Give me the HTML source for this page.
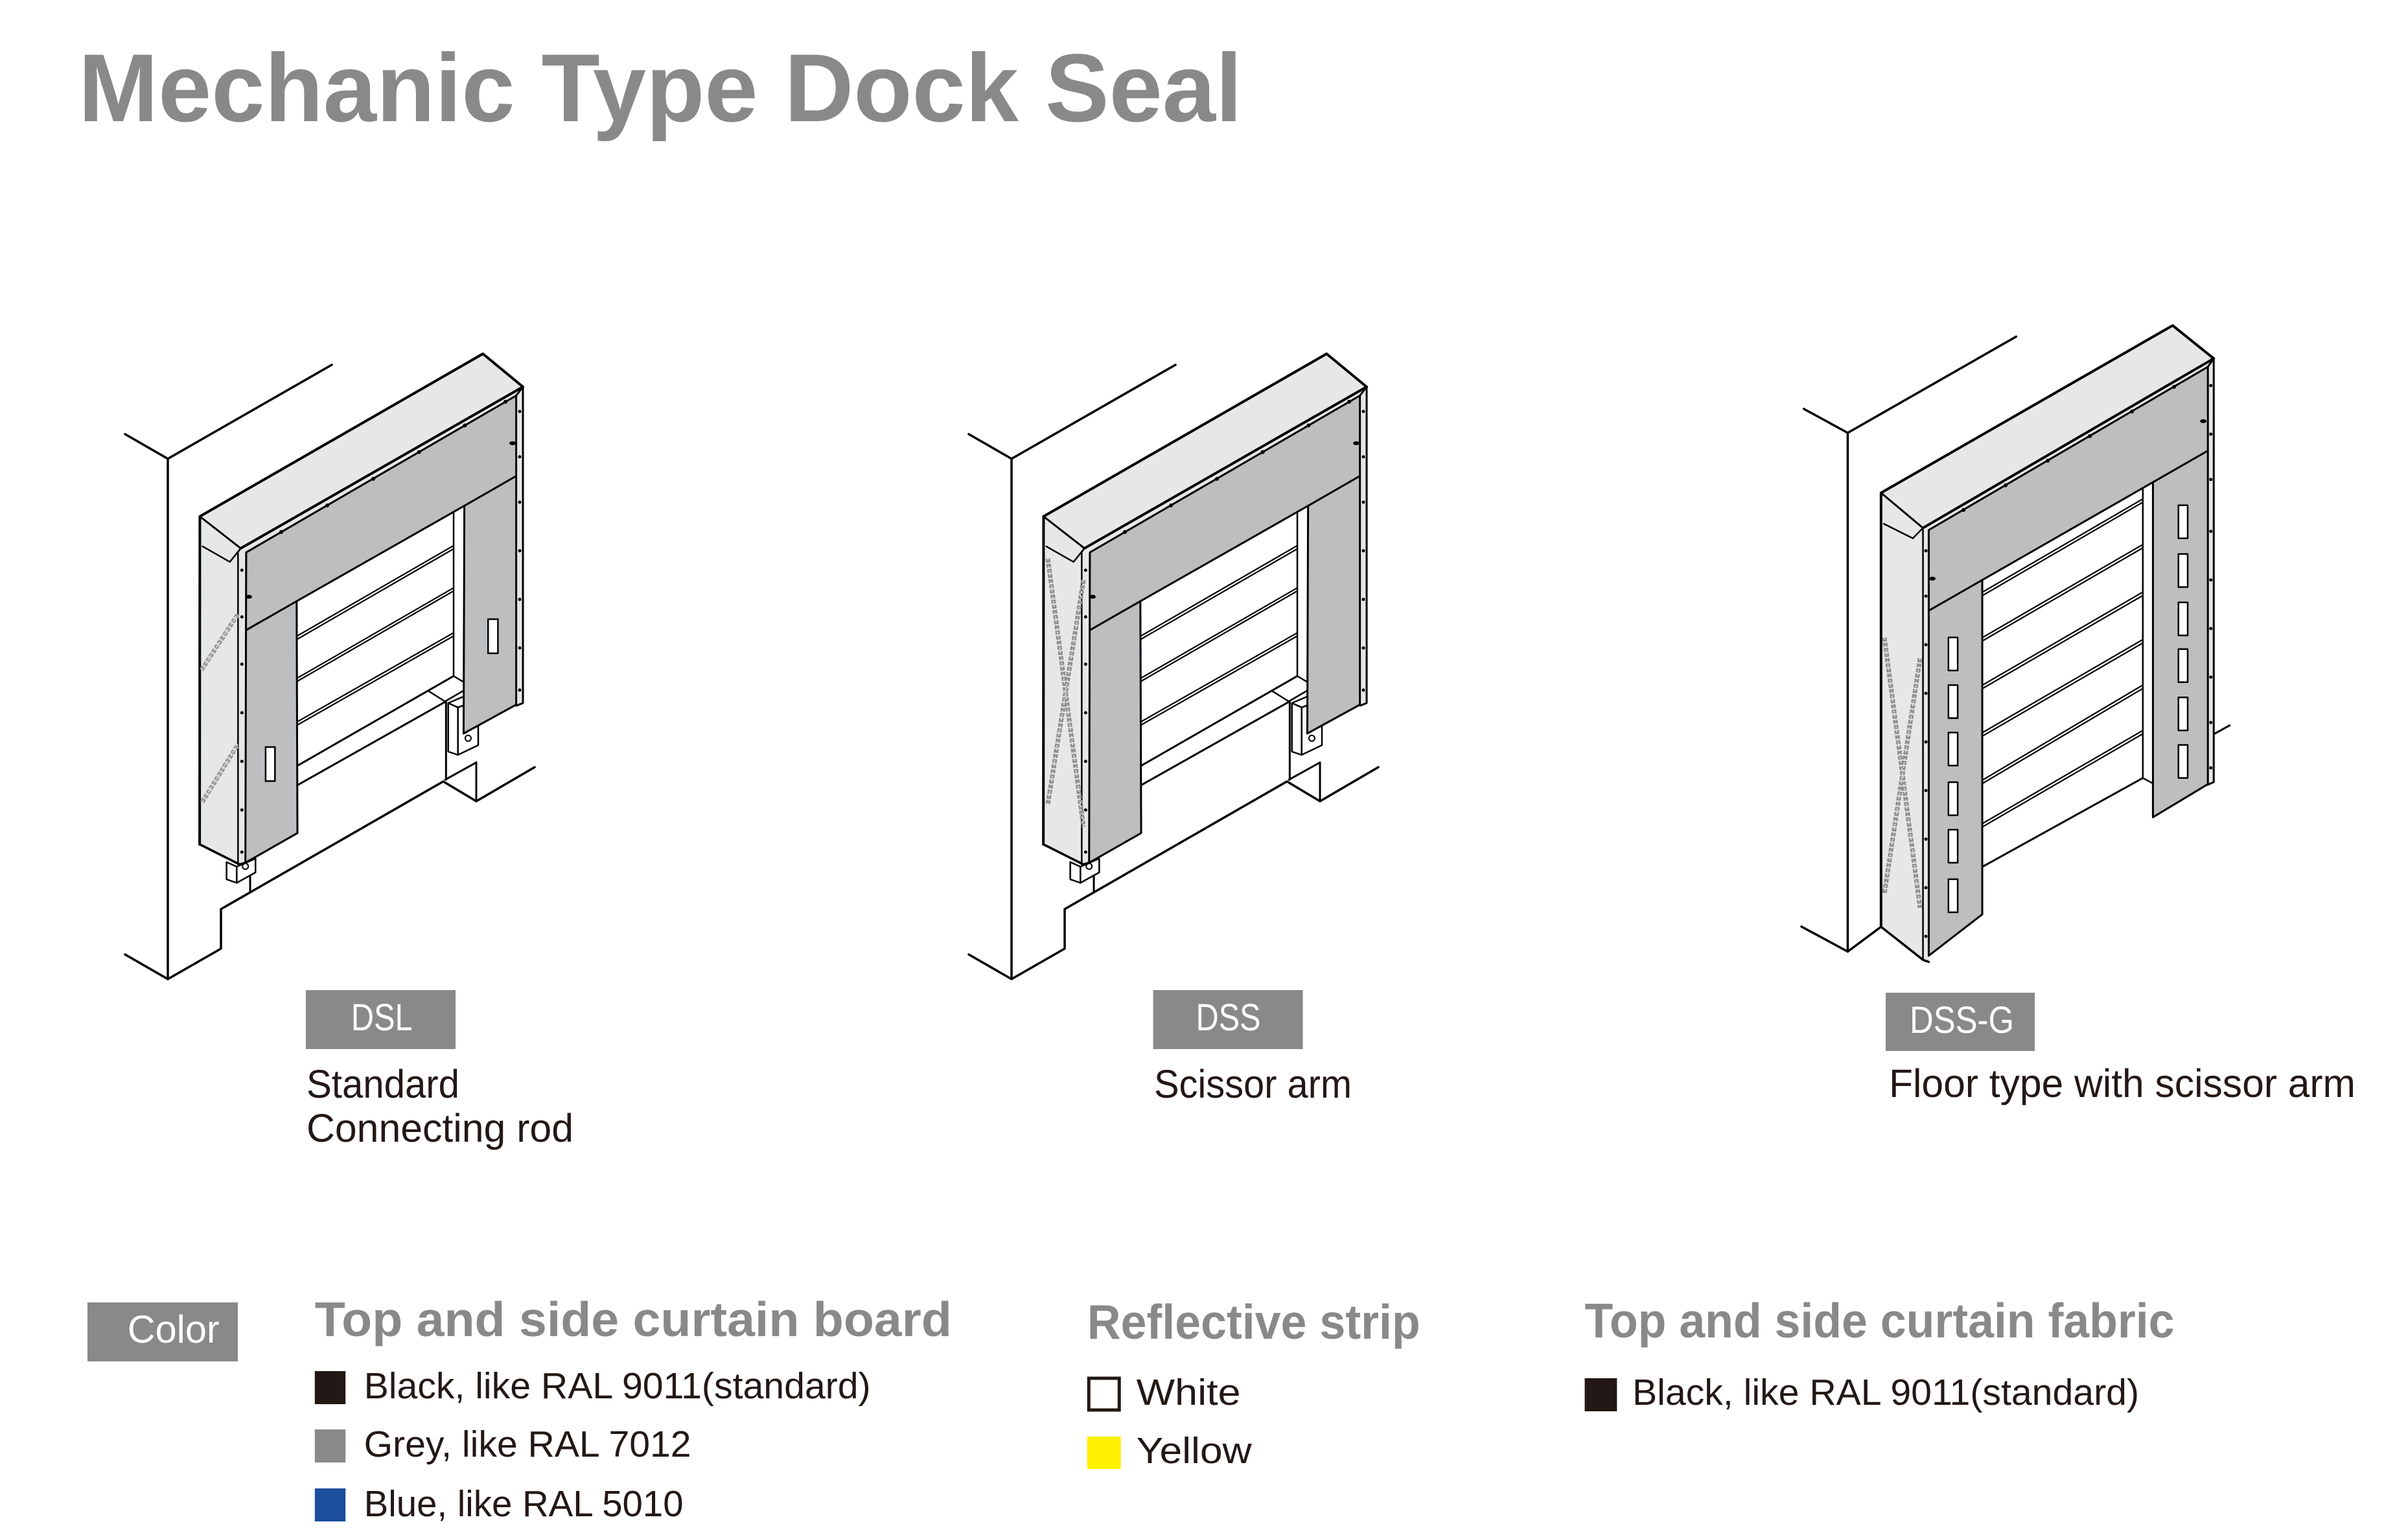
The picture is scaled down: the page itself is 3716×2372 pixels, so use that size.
<!DOCTYPE html>
<html><head><meta charset="utf-8">
<style>
html,body{margin:0;padding:0;background:#fff;}
svg{display:block;}
text{font-family:"Liberation Sans",sans-serif;}
</style></head>
<body>
<svg xmlns="http://www.w3.org/2000/svg" xmlns:xlink="http://www.w3.org/1999/xlink" width="3716" height="2372" viewBox="0 0 3716 2372">
<rect width="3716" height="2372" fill="#fff"/>

<!-- Title -->
<text x="121" y="187" font-size="149" font-weight="bold" fill="#898989" textLength="1796" lengthAdjust="spacingAndGlyphs">Mechanic Type Dock Seal</text>

<defs>
<g id="base" fill="none" stroke="#000" stroke-linejoin="round" stroke-linecap="round">
  <!-- wall -->
  <polyline points="193,670 259,708 512,563" stroke-width="3.5"/>
  <line x1="259" y1="708" x2="259" y2="1511" stroke-width="3.5"/>
  <polyline points="193,1473 259,1511 341,1464 341,1403 684,1206 735,1236.5 825,1184" stroke-width="3.5"/>
  <line x1="735" y1="1236.5" x2="735" y2="1176.7" stroke-width="3"/>
  <line x1="687" y1="1203.3" x2="735" y2="1176.7" stroke-width="3"/>
  <line x1="688.3" y1="1083" x2="688.3" y2="1203.3" stroke-width="3"/>
  <line x1="386" y1="1352" x2="386" y2="1375" stroke-width="3"/>
  <!-- door floor / leveler -->
  <line x1="459" y1="1181.7" x2="700" y2="1043.3" stroke-width="3"/>
  <line x1="459" y1="1211.7" x2="686.7" y2="1083.3" stroke-width="3"/>
  <polyline points="661.7,1066.7 686.7,1082.5 716.7,1065" stroke-width="2.5"/>
  <polyline points="700,1043.3 716.7,1053.3" stroke-width="2.5"/>
  <!-- feet -->
  <polygon points="349.6,1330.4 365.3,1337.5 365.3,1362.5 349.6,1357.1" fill="#fff" stroke-width="2.5"/>
  <polygon points="365.3,1337.5 394.3,1325 394.3,1346.4 365.3,1362.5" fill="#fff" stroke-width="2.5"/>
  <polygon points="691.7,1085 706.7,1091.7 706.7,1165 691.7,1160" fill="#fff" stroke-width="2.5"/>
  <polygon points="706.7,1091.7 738,1080.4 738,1150 706.7,1165" fill="#fff" stroke-width="2.5"/>
  <polygon points="691.7,1085 720,1073 738,1080.4 706.7,1091.7" fill="#fff" stroke-width="2.5"/>
  <!-- hood + column light grey -->
  <polygon fill="#e6e7e8" stroke="none" points="308.4,797 745.2,546 807,597 807,1085 796.6,1090 796.6,610.5 379.9,852.5 379.9,1331 369.7,1334 308.1,1303"/>
  <polyline points="308.1,1303 308.4,797 745.2,546 807,597" stroke-width="4"/>
  <line x1="371.5" y1="846.2" x2="807" y2="597" stroke-width="4"/>
  <line x1="308.4" y1="797" x2="371.5" y2="846.2" stroke-width="3"/>
  <polyline points="371.5,846.2 354.7,867.2 312.6,843.2" stroke-width="2.5"/>
  <polyline points="308.1,1303 369.7,1334 379.9,1331" stroke-width="3.5"/>
  <line x1="367.3" y1="852" x2="367.3" y2="1334" stroke-width="2.5"/>
  <line x1="371.5" y1="846.2" x2="367.3" y2="852" stroke-width="2.5"/>
  <polyline points="796.6,610.5 807,597 807,1085 797,1089" stroke-width="3"/>
  <!-- curtains -->
  <polygon fill="#bcbec0" stroke-width="3" points="379.9,852.5 796.6,610.5 796.6,1087.5 715.4,1132 716.6,780.6 457.8,927.8 459,1285.7 378.7,1331.4"/>
  <line x1="379.9" y1="972.4" x2="457.8" y2="927.8" stroke-width="3"/>
  <line x1="716.6" y1="780.6" x2="796.6" y2="734.6" stroke-width="3"/>
  <!-- back frame -->
  <line x1="700" y1="790.2" x2="700" y2="1043.3" stroke-width="2.5"/>
  <!-- slats -->
  <g stroke-width="2.2">
    <line x1="459.5" y1="980.9" x2="700" y2="842"/>
    <line x1="459.5" y1="986" x2="700" y2="847"/>
    <line x1="459.5" y1="1046.1" x2="700" y2="907.2"/>
    <line x1="459.5" y1="1051" x2="700" y2="912"/>
    <line x1="459.5" y1="1113.4" x2="700" y2="976.6"/>
    <line x1="459.5" y1="1118.5" x2="700" y2="981.5"/>
  </g>
  <!-- bolt holes -->
  <circle cx="378.7" cy="1337" r="4.5" fill="#fff" stroke-width="2"/>
  <circle cx="722.4" cy="1139.3" r="4.5" fill="#fff" stroke-width="2"/>
  <!-- rivets -->
  <g fill="#000" stroke="none">
    <circle cx="434" cy="821" r="3"/><circle cx="505" cy="780" r="3"/><circle cx="576" cy="739" r="3"/>
    <circle cx="646.6" cy="697.6" r="3"/><circle cx="717.4" cy="656.5" r="3"/><circle cx="780" cy="620" r="3"/>
    <circle cx="373.3" cy="880" r="2.5"/><circle cx="373.3" cy="952" r="2.5"/><circle cx="373.3" cy="1025" r="2.5"/>
    <circle cx="373.3" cy="1100" r="2.5"/><circle cx="373.3" cy="1175" r="2.5"/><circle cx="373.3" cy="1250" r="2.5"/>
    <circle cx="373.3" cy="1315" r="2.5"/>
    <circle cx="802" cy="635" r="2.5"/><circle cx="802" cy="705" r="2.5"/><circle cx="802" cy="775" r="2.5"/>
    <circle cx="802" cy="850" r="2.5"/><circle cx="802" cy="925" r="2.5"/><circle cx="802" cy="1000" r="2.5"/>
    <circle cx="802" cy="1065" r="2.5"/>
    <ellipse cx="384" cy="921" rx="5" ry="3"/><ellipse cx="791" cy="684" rx="5" ry="3"/>
  </g>
</g>
</defs>

<!-- Drawing 1 (DSL) -->
<use xlink:href="#base" href="#base"/>
<g fill="#fff" stroke="#000" stroke-width="2.5">
  <rect x="409.9" y="1152.9" width="14.4" height="52.5"/>
  <rect x="753.2" y="955.6" width="15.2" height="52.6"/>
</g>
<g fill="none">
  <g stroke="#9a9a9a" stroke-width="7" stroke-dasharray="6 2">
    <line x1="311" y1="1034" x2="367" y2="948"/>
    <line x1="312" y1="1238" x2="367" y2="1149"/>
  </g>
  <g stroke="#dcdcdc" stroke-width="2" stroke-dasharray="3 3">
    <line x1="311" y1="1034" x2="367" y2="948"/>
    <line x1="312" y1="1238" x2="367" y2="1149"/>
  </g>
</g>

<!-- Drawing 2 (DSS) -->
<use xlink:href="#base" href="#base" transform="translate(1302,0)"/>
<g fill="none">
  <g stroke="#8e8e8e" stroke-width="7" stroke-dasharray="6 2">
    <line x1="1617" y1="862" x2="1672" y2="1276"/>
    <line x1="1672" y1="895" x2="1617" y2="1241"/>
  </g>
  <g stroke="#d6d6d6" stroke-width="2" stroke-dasharray="3 3">
    <line x1="1617" y1="862" x2="1672" y2="1276"/>
    <line x1="1672" y1="895" x2="1617" y2="1241"/>
  </g>
</g>

<!-- Drawing 3 (DSS-G) -->
<g fill="none" stroke="#000" stroke-linejoin="round" stroke-linecap="round">
  <polyline points="2783.6,631 2851.4,668 3111.3,519.5" stroke-width="3.5"/>
  <line x1="2851.4" y1="668" x2="2851.4" y2="1468.5" stroke-width="3.5"/>
  <polyline points="2780,1430 2851.4,1468.5 2902.8,1430.3" stroke-width="3.5"/>
  <line x1="3418.4" y1="1131.8" x2="3440.7" y2="1119.5" stroke-width="3"/>
  <line x1="3059" y1="1337.8" x2="3306.8" y2="1200.7" stroke-width="3"/>
  <line x1="3306.8" y1="1200.7" x2="3322.4" y2="1209" stroke-width="2.5"/>
  <polygon fill="#e6e7e8" stroke="none" points="2902.8,760.6 3352.8,502.3 3416.2,553.3 3416.2,1207 3407.2,1212 3407.2,566.1 2976.4,818 2976.4,1484.5 2967.5,1481.3 2902.8,1430.3"/>
  <polyline points="2902.8,1430.3 2902.8,760.6 3352.8,502.3 3416.2,553.3" stroke-width="4"/>
  <line x1="2967.5" y1="814.8" x2="3416.2" y2="553.3" stroke-width="4"/>
  <line x1="2902.8" y1="760.6" x2="2967.5" y2="814.8" stroke-width="3"/>
  <polyline points="2967.5,814.8 2951.9,830.8 2907.2,808.4" stroke-width="2.5"/>
  <polyline points="2902.8,1430.3 2967.5,1481.3 2976.4,1484.5" stroke-width="3.5"/>
  <line x1="2967.5" y1="818" x2="2967.5" y2="1481" stroke-width="2.5"/>
  <polyline points="3407.2,566 3416.2,553.3 3416.2,1207 3407.2,1211" stroke-width="3"/>
  <polygon fill="#bcbec0" stroke-width="3" points="2976.4,818 3407.2,566.1 3407.2,1210.2 3322.4,1261.2 3322.4,744.2 3059,895.1 3059,1411.1 2976.4,1474.9"/>
  <line x1="2976.4" y1="942.4" x2="3059" y2="895.1" stroke-width="3"/>
  <line x1="3322.4" y1="744.2" x2="3407.2" y2="695.6" stroke-width="3"/>
  <line x1="3306.8" y1="753.1" x2="3306.8" y2="1200.7" stroke-width="2.5"/>
  <g stroke-width="2.2">
    <line x1="3059.5" y1="913.7" x2="3306.8" y2="770"/>
    <line x1="3059.5" y1="919" x2="3306.8" y2="775"/>
    <line x1="3059.5" y1="983.8" x2="3306.8" y2="840.3"/>
    <line x1="3059.5" y1="989" x2="3306.8" y2="845.5"/>
    <line x1="3059.5" y1="1057.2" x2="3306.8" y2="913.7"/>
    <line x1="3059.5" y1="1062.5" x2="3306.8" y2="919"/>
    <line x1="3059.5" y1="1130.5" x2="3306.8" y2="987"/>
    <line x1="3059.5" y1="1135.8" x2="3306.8" y2="992.3"/>
    <line x1="3059.5" y1="1203.8" x2="3306.8" y2="1057.2"/>
    <line x1="3059.5" y1="1209" x2="3306.8" y2="1062.5"/>
    <line x1="3059.5" y1="1270.8" x2="3306.8" y2="1127.3"/>
    <line x1="3059.5" y1="1276" x2="3306.8" y2="1132.5"/>
  </g>
  <g fill="#fff" stroke-width="2.5">
    <rect x="3006.8" y="983.8" width="14.3" height="51"/>
    <rect x="3006.8" y="1057.2" width="14.3" height="51"/>
    <rect x="3006.8" y="1130.5" width="14.3" height="51"/>
    <rect x="3006.8" y="1207.1" width="14.3" height="51"/>
    <rect x="3006.8" y="1280.4" width="14.3" height="51"/>
    <rect x="3006.8" y="1356.9" width="14.3" height="51"/>
    <rect x="3361.7" y="779.7" width="14.3" height="51"/>
    <rect x="3361.7" y="855" width="14.3" height="51"/>
    <rect x="3361.7" y="929.6" width="14.3" height="51"/>
    <rect x="3361.7" y="1001.7" width="14.3" height="51"/>
    <rect x="3361.7" y="1076.3" width="14.3" height="51"/>
    <rect x="3361.7" y="1149.6" width="14.3" height="51"/>
  </g>
  <g fill="#000" stroke="none">
    <circle cx="3030" cy="787" r="3"/><circle cx="3095" cy="749" r="3"/><circle cx="3160" cy="711" r="3"/>
    <circle cx="3225" cy="673" r="3"/><circle cx="3290" cy="635" r="3"/><circle cx="3355" cy="597" r="3"/>
    <circle cx="2972" cy="850" r="2.5"/><circle cx="2972" cy="920" r="2.5"/><circle cx="2972" cy="995" r="2.5"/>
    <circle cx="2972" cy="1070" r="2.5"/><circle cx="2972" cy="1145" r="2.5"/><circle cx="2972" cy="1220" r="2.5"/>
    <circle cx="2972" cy="1295" r="2.5"/><circle cx="2972" cy="1370" r="2.5"/><circle cx="2972" cy="1445" r="2.5"/>
    <circle cx="3411.7" cy="595" r="2.5"/><circle cx="3411.7" cy="670" r="2.5"/><circle cx="3411.7" cy="740" r="2.5"/>
    <circle cx="3411.7" cy="820" r="2.5"/><circle cx="3411.7" cy="895" r="2.5"/><circle cx="3411.7" cy="970" r="2.5"/>
    <circle cx="3411.7" cy="1045" r="2.5"/><circle cx="3411.7" cy="1115" r="2.5"/><circle cx="3411.7" cy="1185" r="2.5"/>
    <ellipse cx="2982" cy="893" rx="5" ry="3"/><ellipse cx="3400" cy="650" rx="5" ry="3"/>
  </g>
</g>
<g fill="none">
  <g stroke="#8e8e8e" stroke-width="7" stroke-dasharray="6 2">
    <line x1="2908" y1="984" x2="2963" y2="1401"/>
    <line x1="2963" y1="1016" x2="2908" y2="1379"/>
  </g>
  <g stroke="#d6d6d6" stroke-width="2" stroke-dasharray="3 3">
    <line x1="2908" y1="984" x2="2963" y2="1401"/>
    <line x1="2963" y1="1016" x2="2908" y2="1379"/>
  </g>
</g>

<!-- Labels -->
<rect x="472" y="1528" width="231" height="91" fill="#898989"/>
<text x="541.7" y="1590" font-size="58" fill="#fff" textLength="95" lengthAdjust="spacingAndGlyphs">DSL</text>
<text x="473" y="1694" font-size="61" fill="#231815" textLength="236" lengthAdjust="spacingAndGlyphs">Standard</text>
<text x="473" y="1762" font-size="61" fill="#231815" textLength="412" lengthAdjust="spacingAndGlyphs">Connecting rod</text>

<rect x="1779.5" y="1528" width="231" height="91" fill="#898989"/>
<text x="1845.5" y="1590" font-size="58" fill="#fff" textLength="100" lengthAdjust="spacingAndGlyphs">DSS</text>
<text x="1781" y="1694" font-size="61" fill="#231815" textLength="305" lengthAdjust="spacingAndGlyphs">Scissor arm</text>

<rect x="2910" y="1532" width="230" height="90" fill="#898989"/>
<text x="2947" y="1594" font-size="58" fill="#fff" textLength="161" lengthAdjust="spacingAndGlyphs">DSS-G</text>
<text x="2915" y="1693" font-size="61" fill="#231815" textLength="720" lengthAdjust="spacingAndGlyphs">Floor type with scissor arm</text>

<!-- Color section -->
<rect x="135" y="2010" width="232" height="91" fill="#898989"/>
<text x="196.7" y="2072" font-size="60" fill="#fff" textLength="142" lengthAdjust="spacingAndGlyphs">Color</text>

<text x="485.8" y="2062" font-size="75" font-weight="bold" fill="#898989" textLength="983" lengthAdjust="spacingAndGlyphs">Top and side curtain board</text>
<text x="1677.7" y="2066" font-size="75" font-weight="bold" fill="#898989" textLength="514" lengthAdjust="spacingAndGlyphs">Reflective strip</text>
<text x="2445.5" y="2064" font-size="75" font-weight="bold" fill="#898989" textLength="910" lengthAdjust="spacingAndGlyphs">Top and side curtain fabric</text>

<rect x="485.8" y="2116" width="47.4" height="51" fill="#231815"/>
<text x="561.6" y="2158" font-size="57" fill="#231815" textLength="782" lengthAdjust="spacingAndGlyphs">Black, like RAL 9011(standard)</text>
<rect x="485.8" y="2206" width="47.4" height="51" fill="#898989"/>
<text x="561.6" y="2248" font-size="57" fill="#231815" textLength="505" lengthAdjust="spacingAndGlyphs">Grey, like RAL 7012</text>
<rect x="485.8" y="2297" width="47.4" height="51" fill="#1c4f9c"/>
<text x="561.6" y="2340" font-size="57" fill="#231815" textLength="493" lengthAdjust="spacingAndGlyphs">Blue, like RAL 5010</text>

<rect x="1680.2" y="2127" width="47" height="49" fill="#fff" stroke="#231815" stroke-width="5"/>
<text x="1753.6" y="2168" font-size="57" fill="#231815" textLength="161" lengthAdjust="spacingAndGlyphs">White</text>
<rect x="1677.7" y="2217" width="52" height="50" fill="#fff100"/>
<text x="1753.6" y="2258" font-size="57" fill="#231815" textLength="178" lengthAdjust="spacingAndGlyphs">Yellow</text>

<rect x="2445.5" y="2127" width="49.8" height="51" fill="#231815"/>
<text x="2519" y="2168" font-size="57" fill="#231815" textLength="782" lengthAdjust="spacingAndGlyphs">Black, like RAL 9011(standard)</text>
</svg>
</body></html>
